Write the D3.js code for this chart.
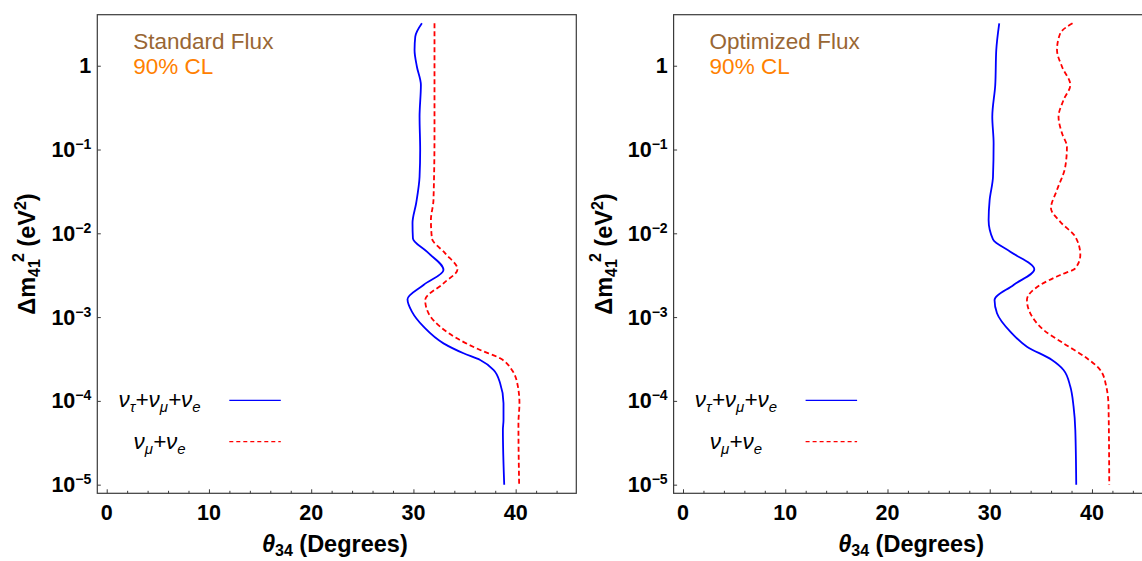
<!DOCTYPE html>
<html>
<head>
<meta charset="utf-8">
<script src="https://cdn.jsdelivr.net/npm/d3@7"></script>
<style>
  html, body { margin: 0; padding: 0; background: #fff; }
  svg { display: block; }
  text { font-family: "Liberation Sans", Arial, Helvetica, sans-serif; }
</style>
</head>
<body>
<svg id="chart" width="1142" height="561"></svg>
<script>
// ---- data: [theta34 (degrees), Δm41^2 (eV^2)] ----
const stdAll = [
  [30.83, 3.21], [30.18, 2.22], [30.11, 1.54], [30.34, 0.973], [30.73, 0.589],
  [30.60, 0.246], [30.66, 0.0986], [30.60, 0.0473], [30.27, 0.0230], [29.91, 0.01327],
  [29.95, 0.00871], [31.32, 0.00603], [32.94, 0.00365], [30.99, 0.00242], [29.42, 0.00163],
  [29.85, 0.00116], [30.99, 0.000767], [32.94, 0.000486], [34.90, 0.000370], [36.53, 0.000308],
  [37.83, 0.000234], [38.48, 0.000162], [38.81, 0.0000935], [38.81, 0.0000592], [38.75, 0.0000450],
  [38.88, 0.00001]
];
const stdMuE = [
  [32.06, 3.21], [32.06, 0.973], [32.06, 0.157], [31.96, 0.0249], [31.71, 0.0144],
  [31.81, 0.00871], [33.11, 0.00577], [34.31, 0.00372], [32.94, 0.00253], [31.15, 0.00160],
  [31.48, 0.00111], [32.62, 0.000767], [34.25, 0.000558], [36.53, 0.000405], [38.48, 0.000322],
  [39.63, 0.000234], [40.22, 0.000148], [40.37, 0.0000935], [40.27, 0.0000541], [40.34, 0.00001]
];
const optAll = [
  [30.93, 3.21], [30.64, 1.54], [30.54, 0.589], [30.25, 0.246], [30.38, 0.1186],
  [30.32, 0.0473], [29.99, 0.0249], [29.89, 0.0144], [30.32, 0.00847], [32.01, 0.00603],
  [34.36, 0.00372], [32.33, 0.00242], [30.47, 0.00160], [30.71, 0.00111], [32.01, 0.000670],
  [33.64, 0.000444], [36.09, 0.000308], [37.22, 0.000234], [37.88, 0.000148], [38.20, 0.0000853],
  [38.37, 0.0000450], [38.46, 0.00001]
];
const optMuE = [
  [38.10, 3.21], [36.90, 2.44], [36.58, 1.54], [37.07, 0.973], [37.88, 0.589],
  [37.22, 0.390], [36.73, 0.246], [37.07, 0.156], [37.55, 0.108], [37.39, 0.0624],
  [36.58, 0.0329], [35.99, 0.0199], [36.90, 0.0137], [38.37, 0.0091], [38.86, 0.00551],
  [38.37, 0.00382], [36.90, 0.00318], [34.94, 0.00242], [33.64, 0.00160], [33.97, 0.00111],
  [35.27, 0.000702], [37.22, 0.000486], [39.51, 0.000322], [40.81, 0.000234], [41.40, 0.000148],
  [41.62, 0.0000853], [41.69, 0.00001]
];
const panelTitles = ["Standard Flux", "Optimized Flux"];
const clLabel = "90% CL";
const xMajorTicks = [0, 10, 20, 30, 40];
const xMinorTicks = [2, 4, 6, 8, 12, 14, 16, 18, 22, 24, 26, 28, 32, 34, 36, 38, 42, 44];
const yTickValues = [1, 1e-1, 1e-2, 1e-3, 1e-4, 1e-5];
const yTickExponents = [null, "\u22121", "\u22122", "\u22123", "\u22124", "\u22125"];
const xDomain = [-0.92, 45.93];
const yDomain = [Math.pow(10, -5.103), Math.pow(10, 0.609)];

// ---- layout ----
const svg = d3.select("#chart");
const panelW = 479, plotTop = 14.7, plotBottom = 493.3;
const panelX = [97.3, 673.6];

const x = d3.scaleLinear().domain(xDomain).range([0, panelW]);
const y = d3.scaleLog().domain(yDomain).range([plotBottom, plotTop]);

const line = d3.line()
  .x(d => x(d[0]))
  .y(d => y(d[1]))
  .curve(d3.curveMonotoneY);

function legendLabel(sel, parts) {
  let prevSub = false;
  parts.forEach(([t, sub]) => {
    const ts = sel.append("tspan").text(t);
    if (sub) ts.attr("font-size", 15);
    if (sub && !prevSub) ts.attr("dy", 5);
    else if (!sub && prevSub) ts.attr("dy", -5);
    prevSub = sub;
  });
}

function drawPanel(i, seriesAll, seriesMuE) {
  const g = svg.append("g").attr("transform", `translate(${panelX[i]},0)`);

  g.append("path").datum(seriesAll)
    .attr("d", line).attr("fill", "none")
    .attr("stroke", "#0000ff").attr("stroke-width", 1.8);
  g.append("path").datum(seriesMuE)
    .attr("d", line).attr("fill", "none")
    .attr("stroke", "#ff0000").attr("stroke-width", 1.8)
    .attr("stroke-dasharray", "5,3");

  g.append("rect")
    .attr("x", 0).attr("y", plotTop).attr("width", panelW).attr("height", plotBottom - plotTop)
    .attr("fill", "none").attr("stroke", "#3a3a3a").attr("stroke-width", 1.2);

  const xAxisMajor = d3.axisBottom(x).tickValues(xMajorTicks).tickSize(-4).tickFormat("");
  const xAxisMinor = d3.axisBottom(x).tickValues(xMinorTicks).tickSize(-2.5).tickFormat("");
  [xAxisMajor, xAxisMinor].forEach(ax => {
    const a = g.append("g").attr("transform", `translate(0,${plotBottom})`).call(ax);
    a.select(".domain").remove();
    a.selectAll("line").attr("stroke", "#3a3a3a").attr("stroke-width", 1);
  });
  g.selectAll(".xlab").data(xMajorTicks).enter().append("text")
    .attr("x", d => x(d)).attr("y", 520)
    .attr("text-anchor", "middle")
    .attr("font-size", 21.5).attr("font-weight", "bold").attr("fill", "#000")
    .text(d => d);

  const yAxis = d3.axisLeft(y).tickValues(yTickValues).tickSize(-3.5).tickFormat("");
  const ya = g.append("g").call(yAxis);
  ya.select(".domain").remove();
  ya.selectAll("line").attr("stroke", "#3a3a3a").attr("stroke-width", 1);

  yTickValues.forEach((v, k) => {
    const t = g.append("text")
      .attr("x", -6).attr("y", y(v) + 7.5)
      .attr("text-anchor", "end")
      .attr("font-size", 21.5).attr("font-weight", "bold").attr("fill", "#000");
    if (yTickExponents[k] === null) {
      t.text("1");
    } else {
      t.append("tspan").text("10");
      t.append("tspan").attr("dy", -8).attr("font-size", 14).text(yTickExponents[k]);
    }
  });

  const xl = g.append("text")
    .attr("x", panelW / 2 - 2).attr("y", 552)
    .attr("text-anchor", "middle")
    .attr("font-size", 23.5).attr("font-weight", "bold").attr("fill", "#000");
  xl.append("tspan").attr("font-style", "italic").text("\u03b8");
  xl.append("tspan").attr("dy", 4).attr("font-size", 16).text("34");
  xl.append("tspan").attr("dy", -4).text(" (Degrees)");

  const yl = g.append("text")
    .attr("transform", `translate(-62,${(plotTop + plotBottom) / 2}) rotate(-90)`)
    .attr("text-anchor", "middle")
    .attr("font-size", 23.5).attr("font-weight", "bold").attr("fill", "#000");
  yl.append("tspan").text("\u0394m");
  yl.append("tspan").attr("dy", 5).attr("font-size", 16).text("41");
  yl.append("tspan").attr("dy", -16).attr("dx", -3).attr("font-size", 16).text("2");
  yl.append("tspan").attr("dy", 11).text(" (eV");
  yl.append("tspan").attr("dy", -9).attr("font-size", 16).text("2");
  yl.append("tspan").attr("dy", 9).text(")");

  g.append("text").attr("x", 36).attr("y", 49)
    .attr("font-size", 22.5).attr("fill", "#996633").text(panelTitles[i]);
  g.append("text").attr("x", 36).attr("y", 74)
    .attr("font-size", 22.5).attr("fill", "#ff8000").text(clLabel);

  const legCx = 62.3, lx0 = 132, lx1 = 183.5;
  const t1 = g.append("text").attr("x", legCx).attr("y", 407)
    .attr("text-anchor", "middle").attr("font-size", 22.5).attr("font-style", "italic").attr("fill", "#000");
  legendLabel(t1, [["\u03bd", false], ["\u03c4", true], ["+\u03bd", false], ["\u03bc", true], ["+\u03bd", false], ["e", true]]);
  g.append("line").attr("x1", lx0).attr("x2", lx1).attr("y1", 400.3).attr("y2", 400.3)
    .attr("stroke", "#0000ff").attr("stroke-width", 1.2);

  const t2 = g.append("text").attr("x", legCx).attr("y", 449)
    .attr("text-anchor", "middle").attr("font-size", 22.5).attr("font-style", "italic").attr("fill", "#000");
  legendLabel(t2, [["\u03bd", false], ["\u03bc", true], ["+\u03bd", false], ["e", true]]);
  g.append("line").attr("x1", lx0).attr("x2", lx1).attr("y1", 441.7).attr("y2", 441.7)
    .attr("stroke", "#ff0000").attr("stroke-width", 1.2).attr("stroke-dasharray", "4,3");
}

drawPanel(0, stdAll, stdMuE);
drawPanel(1, optAll, optMuE);
</script>
</body>
</html>
